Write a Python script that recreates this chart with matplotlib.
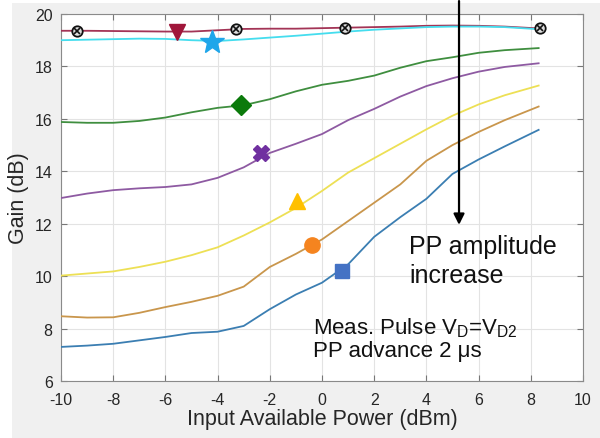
import matplotlib
matplotlib.use("Agg")
import matplotlib.pyplot as plt
from matplotlib.patches import Rectangle

plt.rcParams['font.family'] = ['Liberation Sans', 'DejaVu Sans']

# ---- data ----
x = [-10, -9, -8, -7, -6, -5, -4, -3, -2, -1, 0, 1, 2, 3, 4, 5, 6, 7, 8.3]
g_maroon = [19.36, 19.36, 19.35, 19.34, 19.33, 19.33, 19.38, 19.43, 19.44, 19.44, 19.46,
            19.48, 19.5, 19.52, 19.55, 19.56, 19.55, 19.52, 19.45]
g_cyan = [19.0, 19.02, 19.04, 19.06, 19.05, 19.0, 18.97, 19.03, 19.1, 19.17, 19.25,
          19.33, 19.4, 19.45, 19.5, 19.52, 19.52, 19.5, 19.42]
g_green = [15.88, 15.85, 15.85, 15.92, 16.05, 16.25, 16.42, 16.52, 16.75, 17.05, 17.3,
           17.45, 17.65, 17.95, 18.2, 18.35, 18.52, 18.62, 18.7]
g_purple = [12.98, 13.15, 13.28, 13.35, 13.4, 13.5, 13.75, 14.15, 14.7, 15.05, 15.42,
            15.95, 16.38, 16.85, 17.25, 17.55, 17.8, 17.98, 18.12]
g_yellow = [10.02, 10.1, 10.18, 10.35, 10.55, 10.8, 11.1, 11.55, 12.05, 12.6, 13.25,
            13.95, 14.5, 15.05, 15.6, 16.12, 16.55, 16.9, 17.27]
g_orange = [8.47, 8.42, 8.43, 8.6, 8.82, 9.02, 9.25, 9.6, 10.35, 10.85, 11.4,
            12.1, 12.8, 13.5, 14.4, 15.0, 15.5, 15.95, 16.47]
g_blue = [7.3, 7.35, 7.42, 7.55, 7.68, 7.83, 7.88, 8.1, 8.74, 9.3, 9.75,
          10.45, 11.5, 12.25, 12.95, 13.9, 14.45, 14.95, 15.58]

series = [g_maroon, g_cyan, g_green, g_purple, g_yellow, g_orange, g_blue]
line_colors = ['#A33456', '#45DDEE', '#3F8E3F', '#8E5AA2', '#EDE055', '#C9964C', '#3B7EB2']

# markers (one per curve)
mk_x = [-5.55, -4.2, -3.1, -2.33, -0.94, -0.38, 0.77]
mk_y = [19.33, 18.94, 16.53, 14.68, 12.86, 11.19, 10.2]
mk_style = ['v', '*', 'D', 'X', '^', 'o', 's']
mk_color = ['#A0163A', '#1FA6EA', '#0B7A0B', '#7030A0', '#FFC000', '#F5841F', '#4472C4']
mk_size = [11, 18, 10, 12, 12, 11, 10]

# reference ⊗ markers on top curve
ref_x = [-9.4, -3.3, 0.9, 8.35]
ref_y = [19.36, 19.43, 19.47, 19.45]

xticks = [-10, -8, -6, -4, -2, 0, 2, 4, 6, 8, 10]
yticks = [6, 8, 10, 12, 14, 16, 18, 20]

fig = plt.figure(figsize=(6, 4.39), dpi=100)
fig.patch.set_facecolor('white')
fig.patches.append(Rectangle((12/600, 0), 1 - 12/600, 1 - 4/439, transform=fig.transFigure,
                             facecolor='#F0F0F0', edgecolor='none', zorder=-10))
ax = fig.add_axes([61/600, 1 - 382/439, 522/600, 367/439])
ax.set_facecolor('white')

for ys, c in zip(series, line_colors):
    ax.plot(x, ys, color=c, lw=1.3, zorder=3, solid_joinstyle='round')

for mx, my, ms, mc, sz in zip(mk_x, mk_y, mk_style, mk_color, mk_size):
    ax.plot([mx], [my], marker=ms, color=mc, markersize=sz, markeredgecolor=mc, linestyle='none', zorder=5)

ax.plot(ref_x, ref_y, marker='o', linestyle='none', markersize=7.5, markerfacecolor='#DDDDDD',
        markeredgecolor='#111111', markeredgewidth=1.3, zorder=5)
ax.plot(ref_x, ref_y, marker='x', linestyle='none', markersize=4, color='#111111',
        markeredgewidth=1.2, zorder=6)

ax.set_xlim(-10, 10)
ax.set_ylim(6, 20)
ax.set_xticks(xticks)
ax.set_yticks(yticks)
ax.set_xticklabels([str(v) for v in xticks])
ax.set_yticklabels([str(v) for v in yticks])
ax.tick_params(direction='in', top=True, right=True, length=4, color='#777777',
               labelsize=11.5, labelcolor='#262626')
ax.tick_params(axis='x', pad=8)
ax.tick_params(axis='y', pad=6)
ax.grid(True, color='#E3E3E3', lw=0.8)
ax.set_axisbelow(True)
for s in ax.spines.values():
    s.set_color('#8A8A8A')
    s.set_linewidth(0.8)

ax.set_xlabel('Input Available Power (dBm)', fontsize=15.5, color='#262626', labelpad=1)
ax.set_ylabel('Gain (dB)', fontsize=15.5, color='#262626', labelpad=4)

ax.annotate('', xy=(5.25, 11.85), xytext=(5.25, 20.6),
            arrowprops=dict(arrowstyle='-|>', color='black', lw=1.6, mutation_scale=16),
            annotation_clip=False, zorder=7)

ax.text(3.35, 11.6, 'PP amplitude\nincrease', fontsize=18, color='#111111', va='top',
        ha='left', linespacing=1.25)
ax.text(-0.35, 8.5, 'Meas. Pulse V$_\\mathregular{D}$=V$_\\mathregular{D2}$\nPP advance 2 μs',
        fontsize=16, color='#111111', va='top', ha='left', linespacing=1.05)

fig.savefig('out.png', dpi=100, facecolor=fig.get_facecolor())
